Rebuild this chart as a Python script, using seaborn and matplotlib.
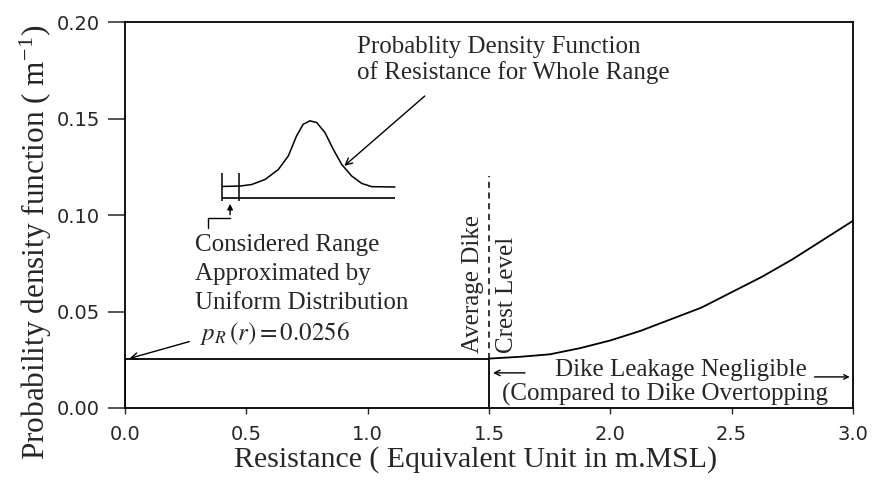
import numpy as np
import pandas as pd
import matplotlib
matplotlib.use("Agg")
import matplotlib.pyplot as plt
import seaborn as sns

# uniform approximation over the considered range
uniform_lo = 0.0
uniform_hi = 1.5
uniform_density = 0.0256

# pdf of resistance above the average crest level
crest_x = [1.5, 1.625, 1.75, 1.875, 2.0, 2.125, 2.25, 2.375, 2.5, 2.625, 2.75, 2.875, 3.0]
crest_y = [0.0256, 0.0265, 0.0278, 0.031, 0.035, 0.040, 0.046, 0.052, 0.060, 0.068, 0.077, 0.087, 0.097]

# small schematic of the whole-range pdf
inset_x = [0.40, 0.474, 0.522, 0.577, 0.632, 0.673, 0.707, 0.734, 0.762, 0.790, 0.824,
           0.858, 0.893, 0.934, 0.975, 1.016, 1.112]
inset_y = [0.1148, 0.1150, 0.1158, 0.1184, 0.1236, 0.1306, 0.1410, 0.1470, 0.1488, 0.1479,
           0.1427, 0.1341, 0.1262, 0.1202, 0.1164, 0.1147, 0.1145]
inset_base = 0.109
inset_ticks = [0.40, 0.471]

x_ticks = [0.0, 0.5, 1.0, 1.5, 2.0, 2.5, 3.0]
y_ticks = [0.00, 0.05, 0.10, 0.15, 0.20]

sns.set_style("ticks")
plt.rcParams["font.family"] = ["Liberation Serif", "DejaVu Serif"]
plt.rcParams["mathtext.fontset"] = "stix"
plt.rcParams["lines.solid_joinstyle"] = "round"

fig = plt.figure(figsize=(8.73, 4.86), dpi=100)
ax = fig.add_axes([0.1432, 0.1605, 0.8339, 0.7942])

lw = 1.3
k = "black"

# uniform box
box = pd.DataFrame({"x": [uniform_lo, uniform_lo, uniform_hi, uniform_hi],
                    "y": [0, uniform_density, uniform_density, 0]})
sns.lineplot(data=box, x="x", y="y", sort=False, color=k, lw=lw, ax=ax, estimator=None)

# rising pdf beyond crest level
sns.lineplot(x=crest_x, y=crest_y, sort=False, color=k, lw=lw, ax=ax, estimator=None)

# crest level
ax.vlines(uniform_hi, uniform_density, 0.12, colors=k, linestyles=(0, (4, 3)), lw=1.1)

# inset bell schematic
sns.lineplot(x=inset_x, y=inset_y, sort=False, color=k, lw=1.1, ax=ax, estimator=None)
ax.hlines(inset_base, inset_x[0], inset_x[-1], colors=k, lw=1.2)
ax.vlines(inset_ticks, 0.1075, 0.122, colors=k, lw=1.1)
ax.plot([0.342, 0.342, 0.433], [0.0935, 0.0987, 0.0987], color=k, lw=1.0)
ax.annotate("", xy=(0.433, 0.1072), xytext=(0.433, 0.0987),
            arrowprops=dict(arrowstyle="-|>", color=k, lw=1.0, mutation_scale=8))

fs = 18
ax.text(0.958, 0.187, "Probablity Density Function", fontsize=fs, ha="left", va="center")
ax.text(0.958, 0.1738, "of Resistance for Whole Range", fontsize=fs, ha="left", va="center")
ax.annotate("", xy=(0.895, 0.1245), xytext=(1.244, 0.1626),
            arrowprops=dict(arrowstyle="->", color=k, lw=1.0, mutation_scale=12))

for i, line in enumerate(["Considered Range", "Approximated by", "Uniform Distribution"]):
    ax.text(0.288, 0.0846 - i * 0.0151, line, fontsize=fs, ha="left", va="center")
ax.text(0.309, 0.0385, r"$p_R\,(r) = 0.0256$", fontsize=fs, ha="left", va="center")
ax.annotate("", xy=(0.008, 0.0253), xytext=(0.276, 0.0348),
            arrowprops=dict(arrowstyle="->", color=k, lw=1.0, mutation_scale=12))

ax.text(1.435, 0.0286, "Average Dike", fontsize=fs, rotation=90, ha="center", va="bottom")
ax.text(1.574, 0.0286, "Crest Level", fontsize=fs, rotation=90, ha="center", va="bottom")

ax.text(1.772, 0.0197, "Dike Leakage Negligible", fontsize=fs, ha="left", va="center")
ax.text(1.553, 0.0072, "(Compared to Dike Overtopping", fontsize=fs, ha="left", va="center")
ax.annotate("", xy=(1.505, 0.0182), xytext=(1.66, 0.0182),
            arrowprops=dict(arrowstyle="->", color=k, lw=1.0, mutation_scale=10))
ax.annotate("", xy=(2.998, 0.0161), xytext=(2.83, 0.0161),
            arrowprops=dict(arrowstyle="->", color=k, lw=1.0, mutation_scale=8))

ax.set_xlim(0, 3.0)
ax.set_ylim(0, 0.20)
ax.set_xticks(x_ticks)
ax.set_yticks(y_ticks)
ax.set_xticklabels([f"{v:.1f}" for v in x_ticks], family="DejaVu Sans", fontsize=14)
ax.set_yticklabels([f"{v:.2f}" for v in y_ticks], family="DejaVu Sans", fontsize=14)
ax.tick_params(axis="y", direction="out", length=12, width=1.1, pad=6)
ax.tick_params(axis="x", direction="out", length=4, width=1.0, pad=8)

ax.set_xlabel("Resistance ( Equivalent Unit in m.MSL)", fontsize=21.5, labelpad=2)
ax.set_ylabel(r"Probability density function ( m$^{\mathregular{-1}}$)", fontsize=22.5, labelpad=2)
ax.xaxis.label.set_x(0.482)
ax.yaxis.label.set_y(0.43)

for s in ax.spines.values():
    s.set_color(k)
    s.set_linewidth(1.3)

fig.savefig("out.png", dpi=100)
